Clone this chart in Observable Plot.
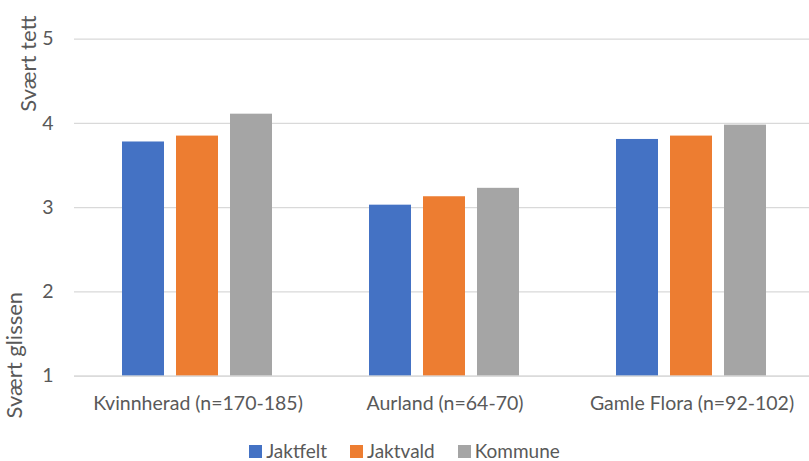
<!DOCTYPE html>
<html>
<head>
<meta charset="utf-8">
<script src="https://cdn.jsdelivr.net/npm/d3@7"></script>
<script src="https://cdn.jsdelivr.net/npm/@observablehq/plot@0.6"></script>
<style>
  html, body { margin: 0; padding: 0; background: #fff; overflow: hidden; }
  #chart svg { display: block; }
  #legend { margin-top: 16px; height: 20px; }
  .lg-swatches { justify-content: center !important; margin: 0 !important; min-height: 20px !important; height: 20px; line-height: 20px; }
  .lg-swatch { margin-right: 23px !important; line-height: 20px; }
  .lg-swatch:last-child { margin-right: 0 !important; }
  .lg-swatch > svg { margin-right: 4px !important; }
</style>
</head>
<body>
<div id="chart"></div>
<div id="legend"></div>
<script>
const categories = ["Kvinnherad (n=170-185)", "Aurland (n=64-70)", "Gamle Flora (n=92-102)"];
const series = ["Jaktfelt", "Jaktvald", "Kommune"];
const jaktfelt = [3.78, 3.03, 3.81];
const jaktvald = [3.85, 3.13, 3.85];
const kommune = [4.11, 3.23, 3.98];
const yTicks = [1, 2, 3, 4, 5];
const yTitles = ["Svært tett", "Svært glissen"];

const seriesValues = [jaktfelt, jaktvald, kommune];
const colors = ["#4472C4", "#ED7D31", "#A5A5A5"];

const data = categories.flatMap((c, i) =>
  series.map((s, j) => ({category: c, series: s, value: seriesValues[j][i]}))
);

const font = "Lato, 'Open Sans', sans-serif";
const textColor = "#595959";

const plot = Plot.plot({
  width: 809,
  height: 425,
  marginLeft: 73,
  marginRight: -7,
  marginTop: 38.7,
  marginBottom: 49.3,
  style: {fontFamily: font, fontSize: "19.5px", color: textColor, background: "#fff"},
  fx: {domain: categories, padding: 0, axis: "bottom", label: null, tickSize: 0, tickPadding: 20},
  x: {domain: series, paddingInner: 0.213, paddingOuter: 0.858, axis: null},
  y: {domain: [1, 5], ticks: yTicks, tickSize: 0, tickPadding: 21, label: null, tickFormat: d3.format("d")},
  color: {domain: series, range: colors},
  marks: [
    Plot.ruleY(yTicks, {stroke: "#d9d9d9", strokeWidth: 1.3}),
    Plot.barY(data, {fx: "category", x: "series", y1: yTicks[0], y2: "value", fill: "series"}),
    Plot.ruleY(yTicks.slice(0, 1), {stroke: "#d9d9d9", strokeWidth: 1.3}),
    Plot.text([{cat: categories[0], label: yTitles[0]}], {
      fx: "cat", text: "label", frameAnchor: "top-left", rotate: -90, textAnchor: "end",
      dx: -54, dy: -23.7, fontSize: 22, fill: textColor
    }),
    Plot.text([{cat: categories[0], label: yTitles[1]}], {
      fx: "cat", text: "label", frameAnchor: "bottom-left", rotate: -90, textAnchor: "start",
      dx: -53, dy: 42.3, fontSize: 22, fill: textColor
    })
  ]
});
document.getElementById("chart").appendChild(plot);

const legend = Plot.legend({
  color: {domain: series, range: colors},
  swatchSize: 13,
  className: "lg",
  style: {fontFamily: font, fontSize: "19px", color: textColor}
});
document.getElementById("legend").appendChild(legend);
</script>
</body>
</html>
